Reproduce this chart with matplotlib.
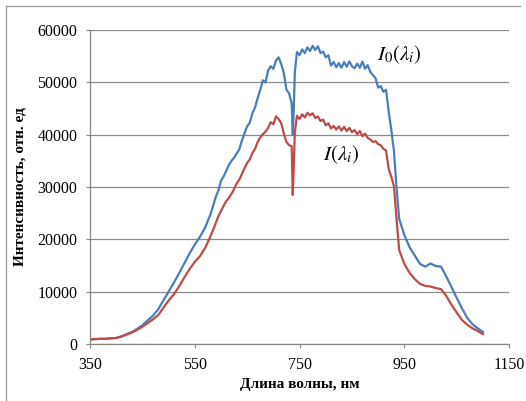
import matplotlib.pyplot as plt
from matplotlib.lines import Line2D

plt.rcParams["font.family"] = "Liberation Serif"
plt.rcParams["mathtext.fontset"] = "stix"

# wavelength, nm
wavelength = [
    350, 360, 370, 380, 390, 400, 410, 420, 430, 440, 450, 460,
    470, 480, 490, 500, 510, 520, 530, 540, 550, 560, 570,
    580, 585, 590, 595, 600, 605, 610, 615, 620, 625, 630, 635,
    640, 645, 650, 655, 660, 665, 670, 675, 680, 685, 690, 695,
    700, 705, 710, 715, 720, 725, 730, 735, 737, 739, 741, 745,
    750, 755, 760, 765, 770, 775, 780, 785, 790, 795, 800, 805,
    810, 815, 820, 825, 830, 835, 840, 845, 850, 855, 860, 865,
    870, 875, 880, 885, 890, 895, 900, 905, 910, 915, 920, 925,
    930, 935,
    940, 950, 960, 970, 980, 990, 1000, 1010, 1020, 1030, 1040,
    1050, 1060, 1070, 1080, 1090, 1100,
]

# I0(lambda) - blue curve
i0 = [
    900, 950, 1000, 1000, 1100, 1150, 1500, 1900, 2300, 2900, 3600, 4500,
    5400, 6600, 8300, 10000, 11700, 13500, 15400, 17300, 19000, 20500, 22300,
    24800, 26400, 28100, 29300, 31200, 32000, 33100, 34200, 35000, 35600, 36400, 37200,
    38900, 40300, 41600, 42300, 44100, 45200, 47000, 48600, 50400, 50000, 52300, 53100,
    52600, 54200, 54800, 53500, 51800, 48600, 47900, 46000, 40000, 45000, 52000, 55800,
    55200, 56300, 55600, 56700, 56000, 57000, 56200, 56900, 55600, 55900, 54800, 55200,
    53200, 53900, 52900, 53700, 52800, 53900, 53000, 54000, 53100, 52700, 53600, 52800,
    54000, 52600, 53300, 52000, 51400, 50800, 49000, 49300, 48200, 48600, 44500, 41000,
    37000, 30000,
    24000, 20800, 18500, 16900, 15300, 14800, 15400, 14900, 14800, 12900, 10900,
    8800, 6800, 5000, 3800, 3000, 2300,
]

# I(lambda) - red curve
i1 = [
    900, 950, 1000, 1000, 1100, 1150, 1400, 1800, 2200, 2700, 3300, 4000,
    4700, 5500, 6900, 8300, 9500, 11000, 12700, 14300, 15700, 16800, 18400,
    20600, 21800, 23100, 24400, 25400, 26400, 27300, 27900, 28700, 29600, 30700, 31400,
    32500, 33600, 34600, 35300, 36500, 37300, 38600, 39500, 40100, 40600, 41300, 42400,
    42000, 43500, 43000, 42200, 40200, 38600, 38000, 37800, 28500, 34000, 40500, 43600,
    43000, 43900, 43300, 44200, 43700, 44100, 43200, 43500, 42600, 42900, 41800, 42200,
    41200, 41700, 41000, 41600, 40800, 41500, 40700, 41300, 40500, 40900, 40100, 40700,
    39700, 40200, 39400, 39100, 38600, 38800, 38200, 38000, 37300, 37000, 33500, 32000,
    30200, 24000,
    18000, 15300, 13600, 12400, 11500, 11100, 11000, 10700, 10500, 9200, 7500,
    6000, 4600, 3700, 3000, 2500, 1900,
]

x_ticks = [350, 550, 750, 950, 1150]
y_ticks = [0, 10000, 20000, 30000, 40000, 50000, 60000]

fig = plt.figure(figsize=(5.26, 4.01), dpi=100, facecolor="white")
ax = fig.add_axes([0.171, 0.142, 0.797, 0.783])

ax.plot(wavelength, i0, color="#4a7ebb", lw=1.6)
ax.plot(wavelength, i1, color="#be4b48", lw=1.6)

ax.set_xlim(350, 1150)
ax.set_ylim(0, 60000)
ax.set_xticks(x_ticks)
ax.set_yticks(y_ticks)
ax.tick_params(direction="out", length=3, width=0.8, color="#868686",
               labelsize=11.5, pad=6)
ax.yaxis.grid(True, color="#8c8c8c", lw=0.9)
ax.set_axisbelow(True)
for s in ["top", "right"]:
    ax.spines[s].set_visible(False)
for s in ["left", "bottom"]:
    ax.spines[s].set_color("#868686")
    ax.spines[s].set_linewidth(0.9)

ax.set_xlabel("Длина волны, нм", fontsize=11, fontweight="bold", labelpad=4)
ax.set_ylabel("Интенсивность, отн. ед", fontsize=11, fontweight="bold", labelpad=8)

ax.text(898, 55300, r"$I_0(\lambda_i)$", fontsize=15, va="center")
ax.text(794, 36100, r"$I(\lambda_i)$", fontsize=15, va="center")

# outer frame (only top and left visible in the crop)
fig.add_artist(Line2D([6 / 526, 520 / 526], [1 - 6 / 401, 1 - 6 / 401],
                      transform=fig.transFigure, color="#999999", lw=0.9))
fig.add_artist(Line2D([6 / 526, 6 / 526], [0, 1 - 6 / 401],
                      transform=fig.transFigure, color="#999999", lw=0.9))

fig.savefig("out.png", dpi=100)
